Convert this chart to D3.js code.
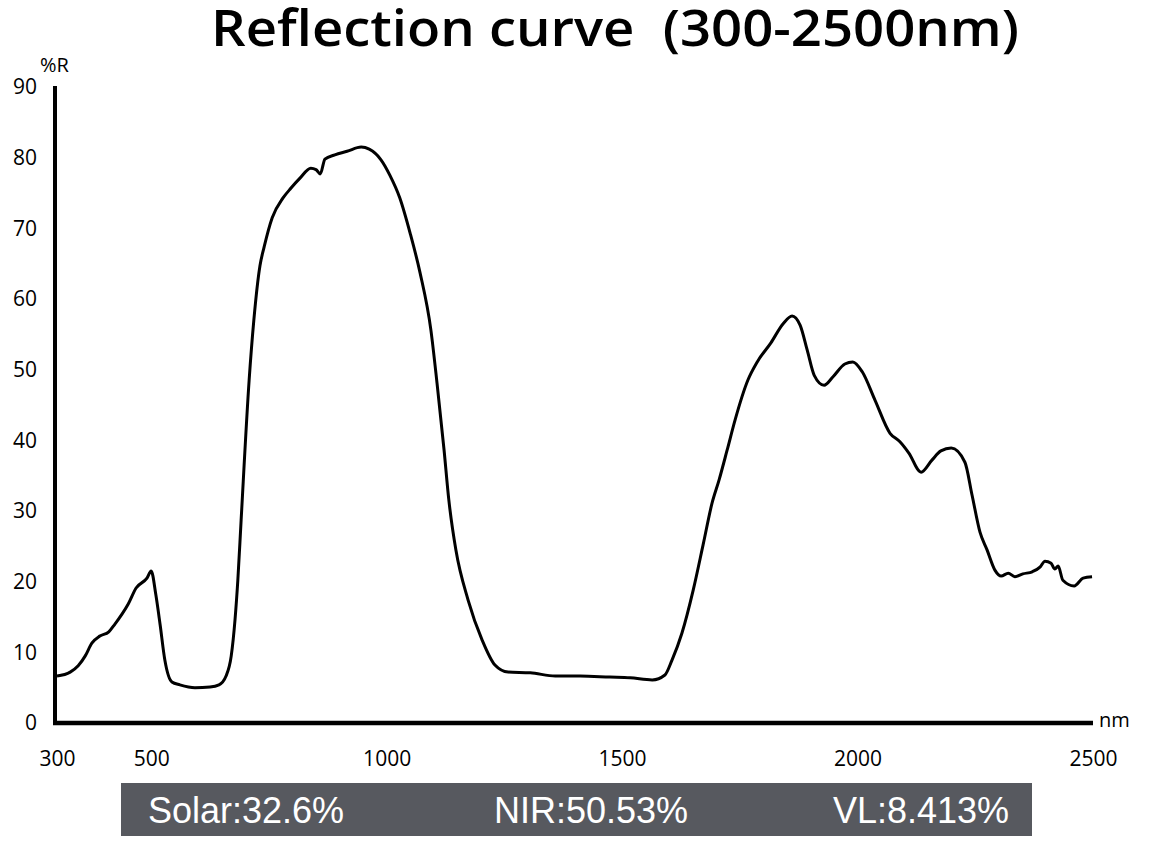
<!DOCTYPE html>
<html>
<head>
<meta charset="utf-8">
<script src="https://d3js.org/d3.v7.min.js"></script>
<style>
  body { margin: 0; background: #fff; }
  .tick text { font-family: "Open Sans", sans-serif; font-size: 21px; fill: #000; }
</style>
</head>
<body>
<svg width="1151" height="841"></svg>
<script>
// wavelengths (nm) and reflectance (%R)
var wavelength = [300, 328, 345, 360, 374, 391, 410, 423, 438, 451, 468, 491, 500, 510, 519, 529, 544, 561, 593, 625, 644, 659, 670, 678, 684, 691,
  708, 718, 731, 740, 757, 780, 797, 816, 839, 850, 859, 869, 890, 916, 946, 963, 988, 1007, 1028, 1050, 1071, 1094, 1107, 1122, 1132, 1147, 1173,
  1203, 1230, 1258, 1305, 1358, 1411, 1474, 1517, 1564, 1591, 1606, 1627, 1651, 1672, 1691, 1706, 1723, 1740, 1767, 1787, 1816, 1842, 1861, 1878,
  1893, 1908, 1929, 1948, 1973, 1990, 2010, 2037, 2069, 2090, 2109, 2135, 2158, 2177, 2199, 2228, 2243, 2260, 2275, 2292, 2305, 2320, 2334, 2351,
  2371, 2388, 2398, 2411, 2419, 2426, 2436, 2460, 2479, 2498];
var reflectance = [6.65, 7.2, 8.1, 9.5, 11.3, 12.3, 12.9, 14.0, 15.4, 16.8, 19.1, 20.5, 21.5, 18.1, 13.9, 8.9, 5.8, 5.4, 5.0, 5.1, 5.4, 6.65, 9.5, 14.6, 20.2, 28.7,
  48.5, 57.0, 64.7, 67.4, 71.5, 74.3, 75.7, 77.1, 78.5, 78.3, 77.7, 79.8, 80.4, 80.9, 81.5, 81.2, 79.7, 77.5, 74.3, 69.3, 63.7, 55.6, 48.1, 38.6, 31.6, 24.5, 17.4,
  11.7, 8.2, 7.2, 7.1, 6.65, 6.65, 6.5, 6.4, 6.1, 6.8, 8.9, 12.7, 18.8, 25.2, 31.1, 34.4, 38.6, 42.9, 48.5, 51.1, 53.8, 56.5, 57.6, 56.3,
  52.8, 49.2, 47.8, 49.0, 50.8, 51.1, 49.7, 45.7, 41.0, 39.8, 38.2, 35.5, 37.2, 38.5, 38.9, 36.9, 32.3, 27.0, 24.5, 21.6, 20.8, 21.2, 20.7, 21.1,
  21.4, 22.1, 22.9, 22.6, 21.8, 22.2, 20.2, 19.4, 20.5, 20.7];

var xTicks = [300, 500, 1000, 1500, 2000, 2500];
var yTicks = [0, 10, 20, 30, 40, 50, 60, 70, 80, 90];

var summaryLabels = ["Solar:32.6%", "NIR:50.53%", "VL:8.413%"];

var svg = d3.select("svg");

var x = d3.scaleLinear().domain([300, 2500]).range([57, 1093]);
var y = d3.scaleLinear().domain([0, 90]).range([723, 87]);

// title
svg.append("text")
  .attr("x", 615).attr("y", 46)
  .attr("text-anchor", "middle")
  .attr("textLength", 808)
  .attr("lengthAdjust", "spacingAndGlyphs")
  .style("font-family", "'Open Sans', sans-serif")
  .style("font-size", "51px")
  .style("font-weight", "600")
  .text("Reflection curve\u00a0\u00a0(300-2500nm)");

// y axis labels
svg.append("g")
  .attr("transform", "translate(37,0)")
  .call(d3.axisLeft(y).tickValues(yTicks).tickSize(0).tickPadding(0))
  .call(function (g) { g.select(".domain").remove(); });

// x axis labels
svg.append("g")
  .attr("transform", "translate(0,751)")
  .call(d3.axisBottom(x).tickValues(xTicks).tickFormat(d3.format("d")).tickSize(0).tickPadding(0))
  .call(function (g) { g.select(".domain").remove(); });

// axis lines
svg.append("line")
  .attr("x1", x(300) - 2).attr("x2", x(300) - 2)
  .attr("y1", y(90) - 1).attr("y2", y(0) + 2)
  .attr("stroke", "#000").attr("stroke-width", 4);
svg.append("line")
  .attr("x1", x(300) - 4).attr("x2", x(2500))
  .attr("y1", y(0)).attr("y2", y(0))
  .attr("stroke", "#000").attr("stroke-width", 4.5);

svg.append("text")
  .attr("x", 40).attr("y", 72)
  .style("font-family", "'Open Sans', sans-serif")
  .style("font-size", "20px")
  .text("%R");
svg.append("text")
  .attr("x", 1099).attr("y", 727)
  .style("font-family", "'Open Sans', sans-serif")
  .style("font-size", "20px")
  .text("nm");

// curve
var data = wavelength.map(function (w, i) { return { w: w, r: reflectance[i] }; });
svg.append("path")
  .datum(data)
  .attr("fill", "none")
  .attr("stroke", "#000")
  .attr("stroke-width", 3)
  .attr("stroke-linejoin", "round")
  .attr("d", d3.line()
    .x(function (d) { return x(d.w); })
    .y(function (d) { return y(d.r); })
    .curve(d3.curveMonotoneX));

// summary banner
svg.append("rect")
  .attr("x", 121).attr("y", 783)
  .attr("width", 911).attr("height", 53)
  .attr("fill", "#57595f");

var labelX = [148, 494, 833];
svg.selectAll(".summary")
  .data(summaryLabels)
  .enter()
  .append("text")
  .attr("class", "summary")
  .attr("x", function (d, i) { return labelX[i]; })
  .attr("y", 823)
  .attr("fill", "#fff")
  .style("font-family", "'Liberation Sans', Arial, sans-serif")
  .style("font-size", "36px")
  .text(function (d) { return d; });
</script>
</body>
</html>
